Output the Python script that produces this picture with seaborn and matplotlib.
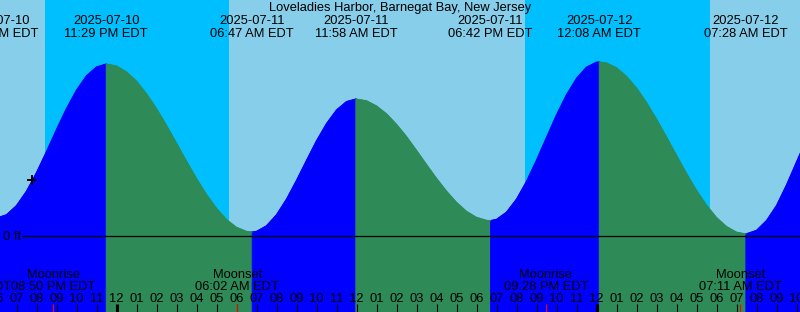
import matplotlib
matplotlib.use("Agg")
import matplotlib.pyplot as plt
import pandas as pd
import seaborn as sns

plt.rcParams['font.family'] = ['Liberation Sans', 'DejaVu Sans']

title = "Loveladies Harbor, Barnegat Bay, New Jersey"

# hours since 2025-07-11 00:00 EDT, water level in ft
tide_hours = [-6.0, -5.5, -5.0, -4.5, -4.0, -3.5, -3.0, -2.5, -2.0, -1.5, -1.0, -0.517,
              0.0, 0.5, 1.0, 1.5, 2.0, 2.5, 3.0, 3.5, 4.0, 4.5, 5.0, 5.5, 6.0, 6.5, 6.783,
              7.0, 7.5, 8.0, 8.5, 9.0, 9.5, 10.0, 10.5, 11.0, 11.5, 11.967,
              12.5, 13.0, 13.5, 14.0, 14.5, 15.0, 15.5, 16.0, 16.5, 17.0, 17.5, 18.0, 18.5, 18.70,
              19.0, 19.5, 20.0, 20.5, 21.0, 21.5, 22.0, 22.5, 23.0, 23.5, 24.0, 24.133,
              24.5, 25.0, 25.5, 26.0, 26.5, 27.0, 27.5, 28.0, 28.5, 29.0, 29.5, 30.0, 30.5, 31.0, 31.467,
              32.0, 32.5, 33.0, 33.5, 34.0, 34.5]
tide_ft = [0.090, 0.106, 0.152, 0.224, 0.317, 0.422, 0.532, 0.637, 0.729, 0.801, 0.845, 0.860,
           0.850, 0.820, 0.774, 0.711, 0.637, 0.553, 0.464, 0.374, 0.287, 0.207, 0.138, 0.082, 0.043, 0.023, 0.020,
           0.023, 0.051, 0.106, 0.184, 0.278, 0.378, 0.476, 0.562, 0.630, 0.672, 0.685,
           0.676, 0.650, 0.611, 0.558, 0.497, 0.428, 0.357, 0.288, 0.224, 0.168, 0.123, 0.093, 0.078, 0.077,
           0.083, 0.119, 0.184, 0.273, 0.379, 0.493, 0.605, 0.706, 0.788, 0.844, 0.869, 0.870,
           0.865, 0.841, 0.798, 0.740, 0.667, 0.584, 0.495, 0.403, 0.313, 0.228, 0.154, 0.092, 0.047, 0.019, 0.010,
           0.028, 0.077, 0.152, 0.255, 0.370, 0.485]

extreme_hours = [-6.0, -0.517, 6.783, 11.967, 18.70, 24.133, 31.467]
extreme_ft = [0.090, 0.860, 0.020, 0.685, 0.077, 0.870, 0.010]
extreme_dates = ["2025-07-10", "2025-07-10", "2025-07-11", "2025-07-11",
                 "2025-07-11", "2025-07-12", "2025-07-12"]
extreme_times = ["06:00 PM EDT", "11:29 PM EDT", "06:47 AM EDT", "11:58 AM EDT",
                 "06:42 PM EDT", "12:08 AM EDT", "07:28 AM EDT"]

sunset_hours = [-3.57, 20.43]
sunrise_hours = [5.63, 29.68]

moon_hours = [-7.383, -3.167, 6.033, 21.467, 31.183]
moon_names = ["Full Moon", "Moonrise", "Moonset", "Moonrise", "Moonset"]
moon_times = ["04:37 PM EDT", "08:50 PM EDT", "06:02 AM EDT", "09:28 PM EDT", "07:11 AM EDT"]

now_hour = -4.25
now_ft = 0.278

hour_ticks = list(range(-6, 35))

# ---- build segments (rising / falling) ----
rows = []
bounds = extreme_hours + [1e9]
for i in range(len(extreme_hours)):
    a, b = bounds[i], bounds[i + 1]
    if i + 1 < len(extreme_hours):
        phase = "rising" if extreme_ft[i + 1] > extreme_ft[i] else "falling"
    else:
        phase = "rising" if extreme_ft[i] < 0.4 else "falling"
    for t, h in zip(tide_hours, tide_ft):
        if a - 1e-9 <= t <= b + 1e-9:
            rows.append({"hour": t, "ft": h, "seg": i, "phase": phase})
df = pd.DataFrame(rows)

colors = {"rising": "#0000FF", "falling": "#2E8B57"}
DAY = "#87CEEB"
NIGHT = "#00BFFF"

W, H = 800, 312
fig = plt.figure(figsize=(W / 100, H / 100), dpi=100)
ax = fig.add_axes([0, 0, 1, 1])
x0 = -116.5 / 20.0
ax.set_xlim(x0, x0 + W / 20.0)
ax.set_ylim(-(H - 236) / 200.0, 236 / 200.0)
ax.set_axis_off()

# day / night background
ax.axvspan(-100, 100, color=DAY, zorder=0, lw=0)
for s, r in zip(sunset_hours, sunrise_hours):
    ax.axvspan(s, r, color=NIGHT, zorder=0.5, lw=0)

# tide fill
for seg, g in df.groupby("seg"):
    c = colors[g["phase"].iloc[0]]
    ax.fill_between(g["hour"], g["ft"], -5, color=c, lw=0.6, edgecolor=c, zorder=1)

sns.lineplot(data=df, x="hour", y="ft", hue="phase", units="seg", estimator=None,
             palette=colors, legend=False, linewidth=0.8, sort=False, ax=ax, zorder=1.5)
ax.set_axis_off()

fs = 9.3

# datum line
ax.axhline(0, xmin=22 / W, xmax=1, color="black", lw=0.9, zorder=2)
ax.text(3 / W, 1 - 240.5 / H, "0 ft", transform=ax.transAxes, fontsize=fs,
        ha="left", va="baseline", zorder=3)

# now marker
ax.plot([now_hour], [now_ft], marker="+", color="black", ms=7, mew=1.4, zorder=3)

xt = ax.get_xaxis_transform()

# title
ax.text(0.5, 1 - 11 / H, title, transform=ax.transAxes, ha="center", va="baseline", fontsize=fs)

# extreme labels
for t, d, tm in zip(extreme_hours, extreme_dates, extreme_times):
    ax.text(t, 1 - 24.3 / H, d, transform=xt, ha="center", va="baseline", fontsize=fs, zorder=3)
    ax.text(t, 1 - 36.7 / H, tm, transform=xt, ha="center", va="baseline", fontsize=fs, zorder=3)

# moon labels
for t, n, tm in zip(moon_hours, moon_names, moon_times):
    ax.text(t, 1 - 278.3 / H, n, transform=xt, ha="center", va="baseline", fontsize=fs, zorder=3)
    ax.text(t, 1 - 290.0 / H, tm, transform=xt, ha="center", va="baseline", fontsize=fs, zorder=3)

# hour ticks and labels
tick_top = 8.5 / H
for h in hour_ticks:
    lab = h % 12
    lab = 12 if lab == 0 else lab
    ax.text(h, 1 - 302.3 / H, f"{lab:02d}", transform=xt, ha="center", va="baseline",
            fontsize=fs, zorder=3)
    lw = 2.2 if h % 24 == 0 else 0.8
    ax.vlines(h, 0, tick_top, transform=xt, color="black", lw=lw, zorder=3)
ax.vlines(moon_hours, 0, tick_top, transform=xt, color="#FF0000", lw=0.8, zorder=3)

fig.savefig("out.png", dpi=100)
